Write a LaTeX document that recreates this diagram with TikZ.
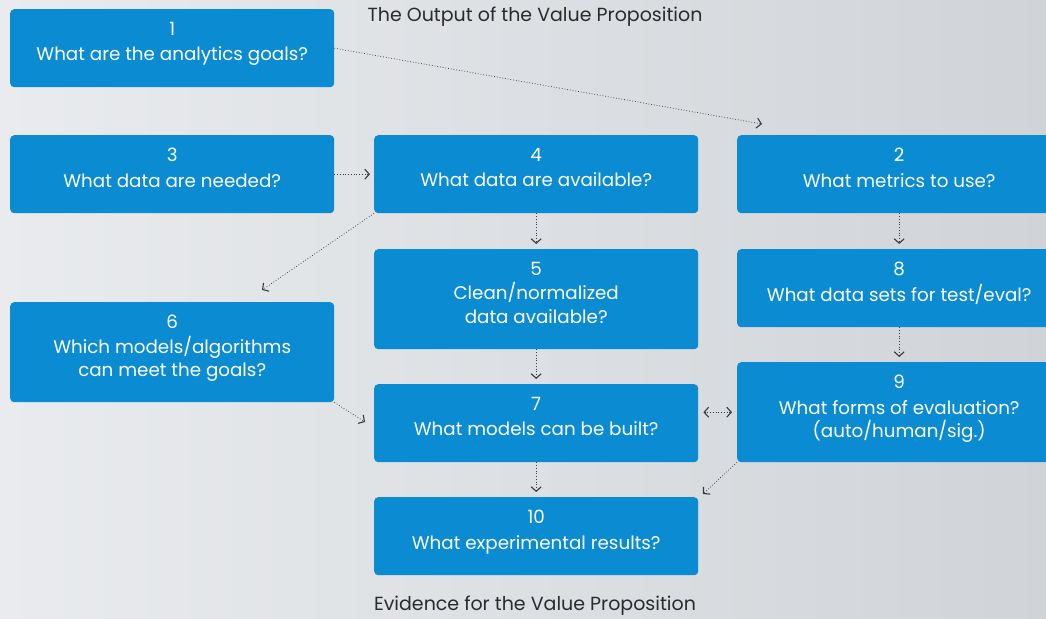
\documentclass[tikz,border=0pt]{standalone}
\usepackage{fontspec}
\setmainfont{Poppins}
\usetikzlibrary{arrows.meta}
\definecolor{boxblue}{HTML}{0A8BD2}
\definecolor{bgA}{HTML}{E9EBEE}
\definecolor{bgB}{HTML}{D0D4D8}
\definecolor{linegray}{HTML}{3A3A3A}
\definecolor{titlegray}{HTML}{2B2B2B}
\begin{document}
\begin{tikzpicture}[x=1pt,y=-1pt,
  qbox/.style={fill=boxblue, rounded corners=4pt, inner sep=0pt,
    minimum width=324pt, minimum height=78pt, anchor=north west},
  tallbox/.style={qbox, minimum height=100pt},
  qtext/.style={text=white, font=\fontsize{18.3}{23.5}\selectfont,
    align=center, anchor=north, inner sep=0pt},
  tip/.style={},
  flow/.style={draw=linegray, dotted, line width=0.75pt,
    -{Straight Barb[length=4.5pt,width=10pt,line width=1.1pt]}},
  dflow/.style={flow, {Straight Barb[length=4.5pt,width=10pt,line width=1.1pt]}-{Straight Barb[length=4.5pt,width=10pt,line width=1.1pt]}},
  titletext/.style={text=titlegray, font=\fontsize{19}{22}\selectfont, inner sep=0pt}]
\useasboundingbox (0,0) rectangle (1046,618);
\clip (0,0) rectangle (1046,618);
\shade[shading angle=120, left color=bgA, right color=bgB] (0,0) rectangle (1046,618);

% boxes
\node[qbox] (b1) at (10,9) {};
\node[qbox] (b3) at (10,135) {};
\node[qbox] (b4) at (374,135) {};
\node[qbox] (b2) at (737,135) {};
\node[tallbox] (b5) at (374,249) {};
\node[qbox] (b8) at (737,249) {};
\node[tallbox] (b6) at (10,302) {};
\node[qbox] (b7) at (374,384) {};
\node[tallbox] (b9) at (737,362) {};
\node[qbox] (b10) at (374,497) {};

% texts
\node[qtext] (t1) at ([yshift=-13pt]b1.north) {1\\[2pt]What are the analytics goals?};
\node[qtext] (t3) at ([yshift=-13pt]b3.north) {3\\[2pt]What data are needed?};
\node[qtext] (t4) at ([yshift=-13pt]b4.north) {4\\[2pt]What data are available?};
\node[qtext] (t2) at ([yshift=-13pt]b2.north) {2\\[2pt]What metrics to use?};
\node[qtext] (t5) at ([yshift=-13pt]b5.north) {5\\[1pt]Clean/normalized\\data available?};
\node[qtext] (t8) at ([yshift=-13pt]b8.north) {8\\[2pt]What data sets for test/eval?};
\node[qtext] (t6) at ([yshift=-13pt]b6.north) {6\\[1pt]Which models/algorithms\\can meet the goals?};
\node[qtext] (t7) at ([yshift=-13pt]b7.north) {7\\[2pt]What models can be built?};
\node[qtext] (t9) at ([yshift=-13pt]b9.north) {9\\[2pt]What forms of evaluation?\\(auto/human/sig.)};
\node[qtext] (t10) at ([yshift=-13pt]b10.north) {10\\[2pt]What experimental results?};

% titles
\node[titletext] (top) at (535,17) {The Output of the Value Proposition};
\node[titletext] (bot) at (535,606) {Evidence for the Value Proposition};

% free ends
\coordinate (c2) at (762,124);
\coordinate (c6) at (262,290);
\coordinate (c7) at (365,422);
\coordinate (c10) at (703,494);

% connectors
\draw[flow] (b1.east) -- (c2);
\draw[flow, shorten >=4pt] (b3.east) -- (b4.west);
\draw[flow] (b4.south west) -- (c6);
\draw[flow, shorten >=5pt] (b4.south) -- (b5.north);
\draw[flow, shorten >=5pt] (b2.south) -- (b8.north);
\draw[flow, shorten >=5pt] (b5.south) -- (b7.north);
\draw[flow, shorten >=5pt] (b8.south) -- (b9.north);
\draw[flow] (b6.south east) -- (c7);
\draw[dflow, shorten <=5pt, shorten >=5pt] (b7.east |- b9.west) -- (b9.west);
\draw[flow] (b9.south west) -- (c10);
\draw[flow, shorten >=5pt] (b7.south) -- (b10.north);
\end{tikzpicture}
\end{document}
